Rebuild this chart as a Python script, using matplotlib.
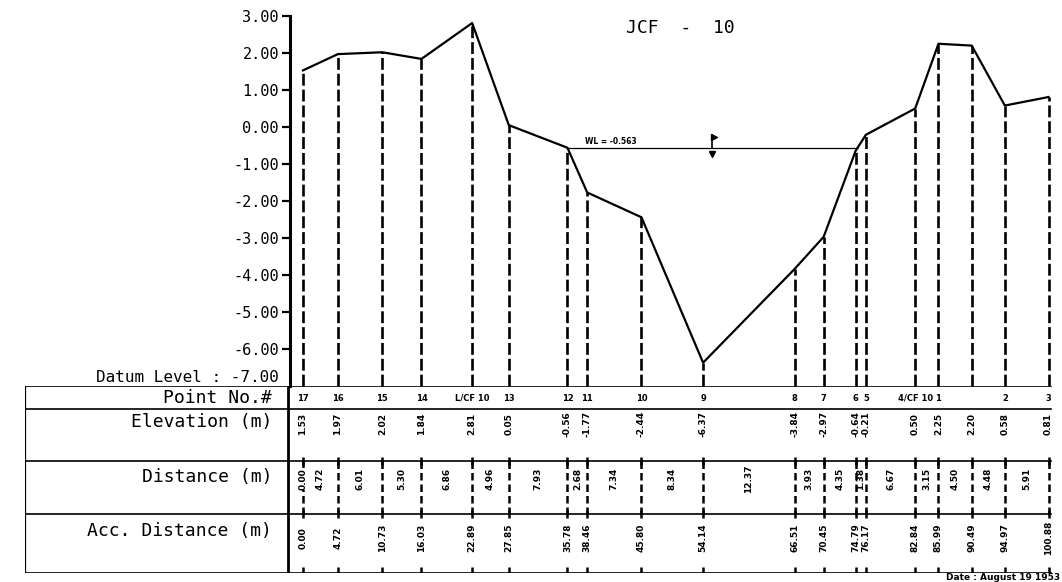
"""Cross-section JCF-10 with survey data table."""

import matplotlib
matplotlib.use("Agg")
import matplotlib.pyplot as plt

# ---- data ----
point_labels = ["17", "16", "15", "14", "L/CF 10", "13", "12", "11", "10", "9",
                "8", "7", "6", "5", "4/CF 10", "1", "", "2", "3"]
acc_distance = [0.00, 4.72, 10.73, 16.03, 22.89, 27.85, 35.78, 38.46, 45.80,
                54.14, 66.51, 70.45, 74.79, 76.17, 82.84, 85.99, 90.49, 94.97,
                100.88]
distance = [0.00, 4.72, 6.01, 5.30, 6.86, 4.96, 7.93, 2.68, 7.34, 8.34, 12.37,
            3.93, 4.35, 1.38, 6.67, 3.15, 4.50, 4.48, 5.91]
elevation = [1.53, 1.97, 2.02, 1.84, 2.81, 0.05, -0.56, -1.77, -2.44, -6.37,
             -3.84, -2.97, -0.64, -0.21, 0.50, 2.25, 2.20, 0.58, 0.81]
y_ticks = [3, 2, 1, 0, -1, -2, -3, -4, -5, -6]
datum_level = -7.00
water_level = -0.563
water_end = 75.04
row_names = ["Point No.#", "Elevation (m)", "Distance (m)", "Acc. Distance (m)"]

# ---- layout (pixels of the 1062x582 sheet) ----
W, H = 1062, 582
PX_PER_M = 7.39
X0 = 303          # pixel of 0 m
MONO = "DejaVu Sans Mono"


def m_at(px):
    return (px - X0) / PX_PER_M


plt.rcParams["font.family"] = "DejaVu Sans"
fig = plt.figure(figsize=(W / 100, H / 100), dpi=100)
fig.patch.set_facecolor("white")

# profile axes: 3.00 at y=16px, -7.00 at y=386px
ax = fig.add_axes([290 / W, 1 - 386 / H, (1060 - 290) / W, (386 - 16) / H])
ax.set_xlim(m_at(290), m_at(1060))
ax.set_ylim(datum_level, 3.0)
for s in ["top", "right", "bottom"]:
    ax.spines[s].set_visible(False)
ax.spines["left"].set_linewidth(2.2)
ax.set_xticks([])
ax.set_yticks(y_ticks)
ax.set_yticklabels([f"{v:.2f}" for v in y_ticks], fontfamily=MONO, fontsize=11)
ax.tick_params(axis="y", direction="out", length=6, width=1.6, pad=2)

ax.plot(acc_distance, elevation, color="black", lw=1.6, clip_on=False)
ax.vlines(acc_distance, datum_level, elevation, colors="black", lw=1.9,
          linestyles=(0, (4.5, 1.5)), clip_on=False)

# water level
ax.hlines(water_level, acc_distance[6], water_end, colors="black", lw=0.9)
ax.text(m_at(585), water_level + 0.05, "WL = -0.563", fontsize=5.5,
        fontweight="bold", va="bottom", ha="left")
wx = m_at(712)
ax.plot([wx, wx], [water_level, water_level + 0.35], color="black", lw=1.2)
ax.plot([wx + 0.3], [water_level + 0.3], marker=">", ms=4, color="black")
ax.plot([wx], [water_level - 0.18], marker="v", ms=5, color="black")

ax.text(m_at(279), datum_level + 0.02, "Datum Level : -7.00", fontfamily=MONO,
        fontsize=11.5, ha="right", va="bottom")
fig.text(680 / W, 1 - 28 / H, "JCF  -  10", fontfamily=MONO, fontsize=13,
         ha="center", va="center")

# ---- table ----
tb = fig.add_axes([25 / W, 1 - 573 / H, (1060 - 25) / W, (573 - 386) / H])
tb.set_xlim(m_at(25), m_at(1060))
tb.set_ylim(187, 0)
tb.axis("off")

row_lines = [0, 23, 75, 128, 187]
x_left, x_div, x_end = m_at(25), m_at(288), acc_distance[-1] + 0.3
for yl in row_lines:
    tb.plot([x_left, x_end], [yl, yl], color="black", lw=1.2)
tb.plot([x_left, x_left], [0, 187], color="black", lw=1.6)
tb.plot([x_div, x_div], [0, 187], color="black", lw=2.0)

label_y = [12, 36, 91, 145]
for name, yy in zip(row_names, label_y):
    tb.text(m_at(272), yy, name, fontfamily=MONO, fontsize=13,
            ha="right", va="center")

# dashed dividers in distance row and ticks on row lines
tb.vlines(acc_distance, 75, 128, colors="black", lw=1.8,
          linestyles=(0, (3, 1.6)))
tb.vlines(acc_distance, 71, 79, colors="black", lw=1.8)
tb.vlines(acc_distance, 124, 132, colors="black", lw=1.8)
tb.vlines(acc_distance, 181, 187, colors="black", lw=1.8)

for x, lab, el, ac in zip(acc_distance, point_labels, elevation, acc_distance):
    tb.text(x, 12, lab, fontsize=6, fontweight="bold", ha="center", va="center")
    tb.text(x, 38, f"{el:.2f}", fontsize=6.5, fontweight="bold", rotation=90,
            ha="center", va="center")
    tb.text(x, 152, f"{ac:.2f}", fontsize=6.5, fontweight="bold", rotation=90,
            ha="center", va="center")

# distances sit midway between neighbouring points, the first one on point 17
dist_x = [acc_distance[0]] + [(a + b) / 2 for a, b in zip(acc_distance[:-1], acc_distance[1:])]
for x, d in zip(dist_x, distance):
    tb.text(x, 93, f"{d:.2f}", fontsize=6.5, fontweight="bold", rotation=90,
            ha="center", va="center",
            bbox=dict(facecolor="white", edgecolor="none", pad=0.3) if x == dist_x[0] else None)

fig.text(1060 / W, 1 - 578 / H, "Date : August 19 1953", fontsize=6.5,
         fontweight="bold", ha="right", va="center")

fig.savefig("out.png", dpi=100, facecolor="white")
